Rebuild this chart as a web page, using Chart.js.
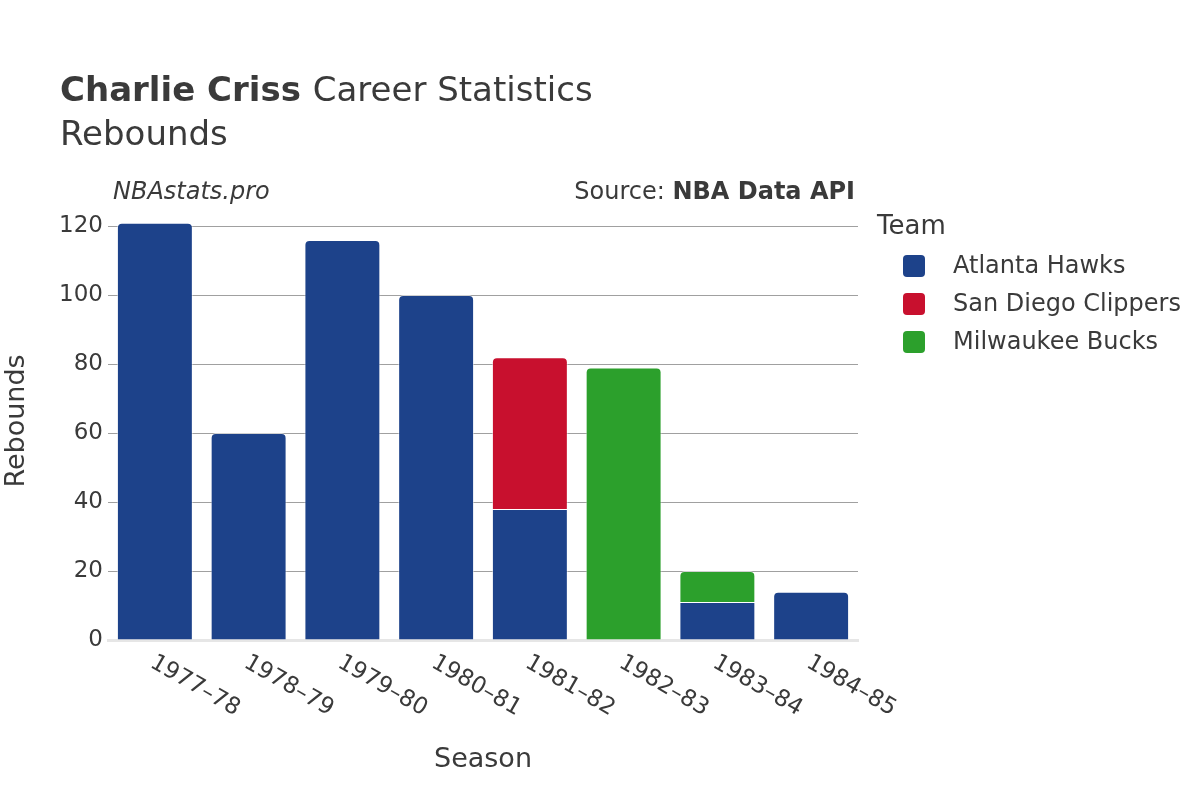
<!DOCTYPE html>
<html>
<head>
<meta charset="utf-8">
<script src="https://cdn.jsdelivr.net/npm/chart.js@4/dist/chart.umd.min.js"></script>
<style>
  html, body { margin: 0; padding: 0; background: #fff; }
  #wrap { width: 1200px; height: 800px; }
</style>
</head>
<body>
<div id="wrap"><canvas id="myChart" width="1200" height="800"></canvas></div>
<script>
const seasons = ['1977–78', '1978–79', '1979–80', '1980–81', '1981–82', '1982–83', '1983–84', '1984–85'];
const atlantaHawks = [121, 60, 116, 100, 38, null, 11, 14];
const sanDiegoClippers = [null, null, null, null, 44, null, null, null];
const milwaukeeBucks = [null, null, null, null, null, 79, 9, null];
const yTicks = [0, 20, 40, 60, 80, 100, 120];

const FONT = "'DejaVu Sans', sans-serif";
const TEXT = '#3a3a3a';
const ctx = document.getElementById('myChart');

// only the topmost piece of a stack gets rounded corners
function topRadius(c) {
    const ds = c.chart.data.datasets;
    for (let k = c.datasetIndex + 1; k < ds.length; k++) {
        if (ds[k].data[c.dataIndex]) return 0;
    }
    return { topLeft: 5, topRight: 5 };
}

const extras = {
    id: 'extras',
    afterDraw(chart) {
        const g = chart.ctx;
        const area = chart.chartArea;
        const xs = chart.scales.x;
        g.save();
        g.fillStyle = TEXT;

        // title
        g.textBaseline = 'alphabetic';
        g.textAlign = 'left';
        g.font = `bold 34px ${FONT}`;
        g.fillText('Charlie Criss', 60, 101);
        let w = g.measureText('Charlie Criss ').width;
        g.font = `34px ${FONT}`;
        g.fillText('Career Statistics', 60 + w, 101);
        g.fillText('Rebounds', 60, 145);

        // credits
        g.font = `italic 24px ${FONT}`;
        g.fillText('NBAstats.pro', 113, 199);
        g.textAlign = 'right';
        g.font = `bold 24px ${FONT}`;
        g.fillText('NBA Data API', 855, 199);
        let bw = g.measureText('NBA Data API').width;
        g.font = `24px ${FONT}`;
        g.fillText('Source: ', 855 - bw, 199);

        // rotated season labels
        g.font = `23px ${FONT}`;
        g.textAlign = 'left';
        g.textBaseline = 'middle';
        seasons.forEach((s, i) => {
            const x = xs.getPixelForTick(i);
            g.save();
            g.translate(x - 3, area.bottom + 21);
            g.rotate(Math.PI / 6);
            g.fillText(s, 0, 0);
            g.restore();
        });

        // legend
        g.font = `26px ${FONT}`;
        g.fillText('Team', 877, 227);
        g.font = `24px ${FONT}`;
        chart.data.datasets.forEach((d, i) => {
            const y = 266 + i * 38;
            g.fillStyle = d.backgroundColor;
            g.beginPath();
            g.roundRect(903, y - 11, 22, 22, 4);
            g.fill();
            g.fillStyle = TEXT;
            g.fillText(d.label, 953, y + 1);
        });
        g.restore();
    }
};

new Chart(ctx, {
    type: 'bar',
    data: {
        labels: seasons,
        datasets: [
            { label: 'Atlanta Hawks', data: atlantaHawks, backgroundColor: '#1d428a' },
            { label: 'San Diego Clippers', data: sanDiegoClippers, backgroundColor: '#c8102e' },
            { label: 'Milwaukee Bucks', data: milwaukeeBucks, backgroundColor: '#2ca02c' }
        ]
    },
    options: {
        responsive: false,
        animation: false,
        layout: { padding: { left: 0, right: 342, top: 202, bottom: 0 } },
        datasets: {
            bar: {
                barPercentage: 0.81,
                categoryPercentage: 1,
                borderWidth: 1,
                borderColor: 'rgba(255,255,255,0.5)',
                borderSkipped: 'start',
                borderRadius: topRadius
            }
        },
        plugins: {
            legend: { display: false },
            tooltip: { enabled: false }
        },
        scales: {
            x: {
                stacked: true,
                afterFit(s) { s.height = 160; },
                grid: { display: false, drawTicks: false },
                border: { display: true, color: '#e6e6e6', width: 3 },
                ticks: { display: false },
                title: {
                    display: true,
                    text: 'Season',
                    color: TEXT,
                    font: { family: FONT, size: 27 },
                    padding: { top: 0, bottom: 24 }
                }
            },
            y: {
                stacked: true,
                min: 0,
                max: 127,
                afterFit(s) { s.width = 108; },
                afterBuildTicks(s) { s.ticks = yTicks.map(v => ({ value: v })); },
                grid: {
                    drawTicks: false,
                    color: c => c.tick && c.tick.value === 0 ? 'rgba(0,0,0,0)' : '#a0a0a0',
                    lineWidth: 1
                },
                border: { display: false },
                ticks: {
                    padding: 5,
                    color: TEXT,
                    font: { family: FONT, size: 23 }
                },
                title: {
                    display: true,
                    text: 'Rebounds',
                    color: TEXT,
                    font: { family: FONT, size: 27 },
                    padding: { top: 1, bottom: 0 }
                }
            }
        }
    },
    plugins: [extras]
});
</script>
</body>
</html>
